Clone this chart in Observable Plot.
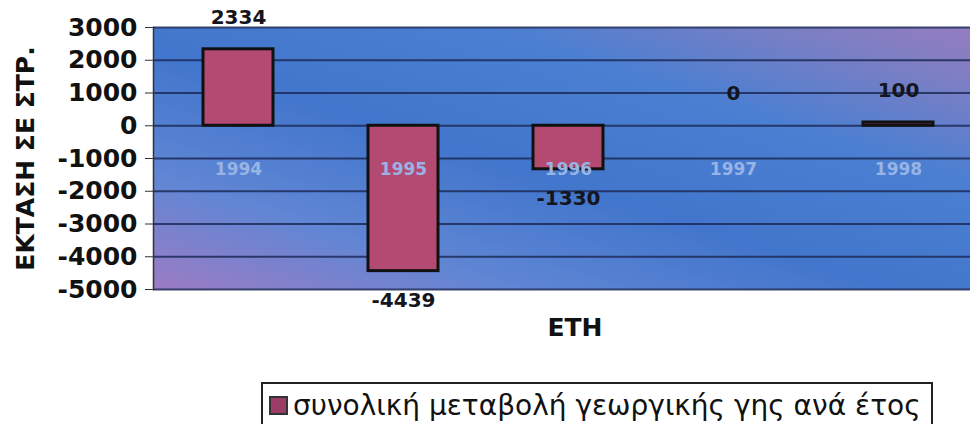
<!DOCTYPE html>
<html>
<head>
<meta charset="utf-8">
<script src="https://cdn.jsdelivr.net/npm/d3@7"></script>
<script src="https://cdn.jsdelivr.net/npm/@observablehq/plot@0.6"></script>
<style>
  html, body { margin: 0; padding: 0; background: #fff; }
  #wrap { position: relative; width: 970px; height: 424px; overflow: hidden; font-family: "DejaVu Sans", Arial, sans-serif; }
  #legend { position: absolute; left: 261px; top: 382px; width: 672px; height: 60px; border: 2px solid #222; box-sizing: border-box;
            font-size: 28px; line-height: 32px; color: #111; padding-left: 6px; padding-top: 6px; white-space: nowrap; font-family: "DejaVu Sans", Verdana, sans-serif; }
  #legend .sw { display: inline-block; width: 15px; height: 15px; background: #9a3c66; border: 2px solid #333; margin-right: 5px; vertical-align: 0px; }
</style>
</head>
<body>
<div id="wrap">
  <div id="chart"></div>
  <div id="legend"><span class="sw"></span>συνολική μεταβολή γεωργικής γης ανά έτος</div>
</div>
<script>
const years = ["1994", "1995", "1996", "1997", "1998"];
const values = [2334, -4439, -1330, 0, 100];
const yTicks = [3000, 2000, 1000, 0, -1000, -2000, -3000, -4000, -5000];
const seriesName = "συνολική μεταβολή γεωργικής γης ανά έτος";

const data = years.map((y, i) => ({year: y, value: values[i]}));
const boldFont = "DejaVu Sans, Arial, sans-serif";

const plot = Plot.plot({
  width: 970,
  height: 360,
  marginTop: 27,
  marginBottom: 71,
  marginLeft: 153,
  marginRight: 0,
  style: {background: "transparent", overflow: "visible", fontFamily: boldFont},
  x: {domain: years, range: [155, 980], paddingInner: 0.576, paddingOuter: 0.288, axis: null},
  y: {domain: [-5000, 3000]},
  marks: [
    Plot.frame({fill: "url(#bgGrad)", stroke: "none"}),
    Plot.gridY(yTicks, {stroke: "#1c2a58", strokeOpacity: 0.85, strokeWidth: 1.8}),
    Plot.barY(data, {x: "year", y: "value", fill: "#b34a72", stroke: "#111", strokeWidth: 3}),
    Plot.text(data, {x: "year", y: 0, text: "year", dy: 44, fill: "#98b4e6", fontSize: 17, fontWeight: "bold", fontFamily: boldFont}),
    Plot.text(data.filter(d => d.value >= 0), {x: "year", y: "value", text: d => String(d.value), dy: -32, fill: "#151520", fontSize: 20, fontWeight: "bold", fontFamily: boldFont}),
    Plot.text(data.filter(d => d.value < 0), {x: "year", y: "value", text: d => String(d.value), dy: 29, fill: "#151520", fontSize: 20, fontWeight: "bold", fontFamily: boldFont}),
    Plot.frame({anchor: "left", stroke: "#333", strokeWidth: 1.5}),
    Plot.axisY(yTicks, {
      tickSize: 8, tickPadding: 8, fontSize: 25, fontWeight: "bold", fill: "#111", stroke: "#333",
      tickFormat: d => String(d), label: null
    }),
    Plot.axisY([], {
      fontSize: 25, fontWeight: "bold", fill: "#111", tickSize: 0,
      label: "ΕΚΤΑΣΗ ΣΕ ΣΤΡ.", labelAnchor: "center", labelArrow: "none", labelOffset: 137
    }),
    Plot.text(["ΕΤΗ"], {frameAnchor: "bottom", dy: 46, dx: 13, fontSize: 25, fontWeight: "bold", fill: "#111", fontFamily: boldFont})
  ]
});

// gradient background definition for the frame
const svg = d3.select(plot);
const defs = svg.insert("defs", ":first-child");
const g = defs.append("linearGradient").attr("id", "bgGrad")
  .attr("x1", 0).attr("y1", 1).attr("x2", 1).attr("y2", 0);
[[0, "#9c7cc4"], [0.22, "#6086d4"], [0.45, "#4276cc"], [0.7, "#4a7fd2"], [0.88, "#7a7fc4"], [1, "#967cc0"]]
  .forEach(([o, c]) => g.append("stop").attr("offset", o).attr("stop-color", c));

document.getElementById("chart").appendChild(plot);
</script>
</body>
</html>
